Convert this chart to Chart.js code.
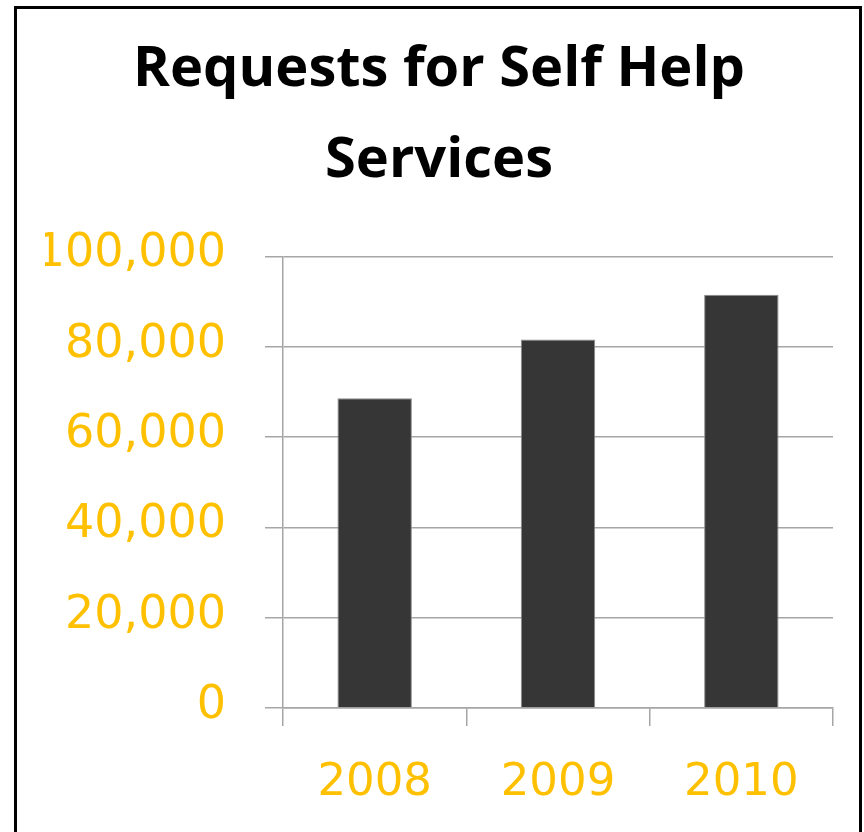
<!DOCTYPE html>
<html>
<head>
<meta charset="utf-8">
<script src="https://cdn.jsdelivr.net/npm/chart.js@4/dist/chart.umd.min.js"></script>
<style>
  html, body { margin: 0; padding: 0; background: #fff; }
  #wrap { position: relative; width: 864px; height: 832px; }
  #myChart { position: absolute; left: 0; top: 0; }
  #frame {
    position: absolute; left: 14px; top: 6px; width: 842px; height: 840px;
    border: 3px solid #000; pointer-events: none;
  }
</style>
</head>
<body>
<div id="wrap">
  <canvas id="myChart" width="864" height="832"></canvas>
  <div id="frame"></div>
</div>
<script>
// requests per year
var years = ['2008', '2009', '2010'];
var requests = [68600, 81600, 91500];
var yTicks = [0, 20000, 40000, 60000, 80000, 100000];

var orange = '#FFC000';
var gridGray = '#a6a6a6';

var ctx = document.getElementById('myChart');
var myChart = new Chart(ctx, {
  type: 'bar',
  data: {
    labels: years,
    datasets: [{
      label: 'Requests',
      data: requests,
      backgroundColor: '#363636',
      borderColor: '#8c8c8c',
      borderWidth: 1,
      barPercentage: 0.406,
      categoryPercentage: 1
    }]
  },
  options: {
    responsive: false,
    animation: false,
    layout: { padding: { left: 45, right: 31, top: 0, bottom: 0 } },
    plugins: {
      legend: { display: false },
      tooltip: { enabled: false },
      title: {
        display: true,
        text: ['Requests for Self Help', 'Services'],
        color: '#000',
        font: { family: 'Open Sans', size: 56, weight: 'bold', lineHeight: 1.62 },
        padding: { top: 25, bottom: 50 }
      }
    },
    scales: {
      x: {
        grid: {
          offset: true,
          drawOnChartArea: false,
          drawTicks: true,
          tickLength: 18,
          color: gridGray,
          lineWidth: 1.5
        },
        border: { color: gridGray, width: 1.5 },
        ticks: {
          color: orange,
          font: { family: 'DejaVu Sans', size: 45 },
          padding: 30
        },
        afterFit: function(scale) { scale.height = 124; }
      },
      y: {
        min: 0,
        max: 100000,
        afterBuildTicks: function(scale) {
          scale.ticks = yTicks.map(function(v) { return { value: v }; });
        },
        grid: {
          color: gridGray,
          lineWidth: 1.5,
          tickLength: 18
        },
        border: { color: gridGray, width: 1.5 },
        ticks: {
          color: orange,
          font: { family: 'DejaVu Sans', size: 46 },
          padding: 39,
          labelOffset: -2,
          callback: function(v) { return v.toLocaleString('en-US'); }
        },
        afterFit: function(scale) { scale.width = 238; }
      }
    }
  }
});
</script>
</body>
</html>
